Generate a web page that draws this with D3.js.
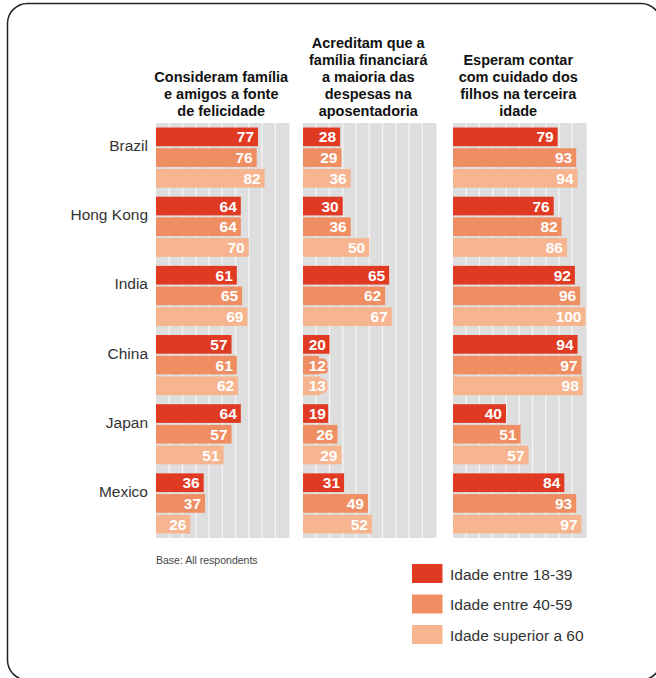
<!DOCTYPE html>
<html>
<head>
<meta charset="utf-8">
<script src="https://cdn.jsdelivr.net/npm/d3@7"></script>
<style>
  html, body { margin: 0; padding: 0; background: #fff; }
  svg { display: block; font-family: "Liberation Sans", Arial, Helvetica, sans-serif; }
</style>
</head>
<body>
<svg id="chart" width="656" height="678"></svg>
<script>
// Survey responses by country and age group (percent)
const countries = ["Brazil", "Hong Kong", "India", "China", "Japan", "Mexico"];
const ageGroups = ["Idade entre 18-39", "Idade entre 40-59", "Idade superior a 60"];
const panelTitles = [
  ["Consideram família", "e amigos a fonte", "de felicidade"],
  ["Acreditam que a", "família financiará", "a maioria das", "despesas na", "aposentadoria"],
  ["Esperam contar", "com cuidado dos", "filhos na terceira", "idade"]
];
// values[panel][country] = [18-39, 40-59, 60+]
const happinessValues = [
  [77, 76, 82], [64, 64, 70], [61, 65, 69], [57, 61, 62], [64, 57, 51], [36, 37, 26]
];
const retirementValues = [
  [28, 29, 36], [30, 36, 50], [65, 62, 67], [20, 12, 13], [19, 26, 29], [31, 49, 52]
];
const careValues = [
  [79, 93, 94], [76, 82, 86], [92, 96, 100], [94, 97, 98], [40, 51, 57], [84, 93, 97]
];
const panelValues = [happinessValues, retirementValues, careValues];
const gridTicks = [10, 20, 30, 40, 50, 60, 70, 80, 90];
const baseNote = "Base: All respondents";

const colors = ["#e03a22", "#ef8e62", "#f6b58e"];

const svg = d3.select("#chart");

// Rounded frame, partly running off the page edges
svg.append("rect")
  .attr("x", 7.5).attr("y", 3.5)
  .attr("width", 653.5).attr("height", 676.5)
  .attr("rx", 20).attr("ry", 20)
  .attr("fill", "none").attr("stroke", "#222").attr("stroke-width", 1.5);

const panelX = [156, 303, 453];
const panelW = 132.5;
const plotTop = 123, plotBottom = 538;
const labelMinWidth = 27; // room needed for a two-digit label inside a bar

const y = d3.scaleBand().domain(countries).range([plotTop, plotBottom])
  .paddingInner(0.131).paddingOuter(0.0655);
const ySub = d3.scaleBand().domain(d3.range(ageGroups.length))
  .range([0, y.bandwidth()]).paddingInner(0.097);

panelValues.forEach((vals, pi) => {
  const x = d3.scaleLinear().domain([0, 100]).range([panelX[pi], panelX[pi] + panelW]);
  const g = svg.append("g");

  // Gray plot background
  g.append("rect")
    .attr("x", x(0)).attr("y", plotTop)
    .attr("width", x(100) - x(0) + 1).attr("height", plotBottom - plotTop)
    .attr("fill", "#dedede");

  // White vertical gridlines
  g.selectAll("line.grid").data(gridTicks).join("line")
    .attr("class", "grid")
    .attr("x1", d => x(d)).attr("x2", d => x(d))
    .attr("y1", plotTop).attr("y2", plotBottom)
    .attr("stroke", "#f4f4f4").attr("stroke-width", 1.3);

  // Title, bottom-aligned above the panel
  const lines = panelTitles[pi];
  const cx = (x(0) + x(100)) / 2 - 1;
  g.append("text")
    .attr("text-anchor", "middle")
    .attr("font-weight", "bold").attr("font-size", 14.5).attr("fill", "#111")
    .selectAll("tspan").data(lines).join("tspan")
    .attr("x", cx)
    .attr("y", (d, i) => 115.5 - (lines.length - 1 - i) * 17)
    .text(d => d);

  // Bars and value labels
  countries.forEach((c, ci) => {
    const row = g.append("g").attr("transform", `translate(0,${y(c)})`);
    vals[ci].forEach((v, si) => {
      const w = x(v) - x(0);
      row.append("rect")
        .attr("x", x(0)).attr("y", ySub(si))
        .attr("width", w).attr("height", ySub.bandwidth())
        .attr("fill", colors[si]);
      const short = w < labelMinWidth;
      const label = row.append("text")
        .attr("x", short ? x(0) + labelMinWidth - 4 : x(v) - 4)
        .attr("y", ySub(si) + ySub.bandwidth() / 2)
        .attr("dy", "0.36em")
        .attr("text-anchor", "end")
        .attr("font-weight", "bold").attr("font-size", 15.5).attr("fill", "#fff")
        .text(v);
      // Labels longer than their bar get a halo in the bar colour
      if (short) {
        label.attr("stroke", colors[si]).attr("stroke-width", 5)
          .attr("stroke-linejoin", "round").attr("paint-order", "stroke");
      }
    });
  });
});

// Country labels
svg.selectAll("text.country").data(countries).join("text")
  .attr("class", "country")
  .attr("x", 148).attr("y", d => y(d) + 23.5)
  .attr("text-anchor", "end")
  .attr("font-size", 15.5).attr("fill", "#333")
  .text(d => d);

// Base note
svg.append("text")
  .attr("x", 156).attr("y", 564)
  .attr("font-size", 10.5).attr("fill", "#444")
  .text(baseNote);

// Legend
const legend = svg.append("g").attr("transform", "translate(412,564)");
ageGroups.forEach((name, i) => {
  const row = legend.append("g").attr("transform", `translate(0,${i * 30.5})`);
  row.append("rect").attr("width", 30.5).attr("height", 19).attr("fill", colors[i]);
  row.append("text")
    .attr("x", 38).attr("y", 15.5)
    .attr("font-size", 15.5).attr("fill", "#333")
    .text(name);
});
</script>
</body>
</html>
